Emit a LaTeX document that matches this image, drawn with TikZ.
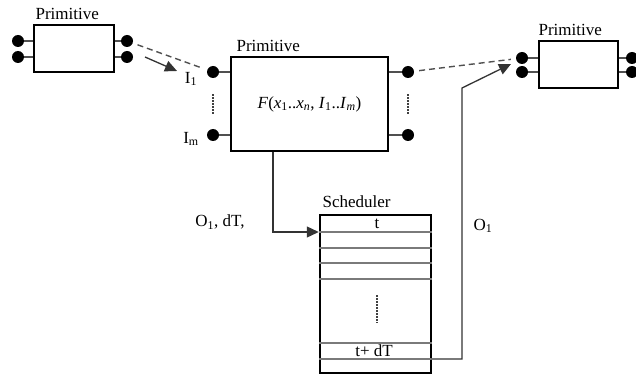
\documentclass[tikz,border=0pt]{standalone}
\usepackage{fontspec}
\setmainfont{Liberation Serif}
\usetikzlibrary{arrows.meta, positioning}
\definecolor{lineaGris}{HTML}{505050}
\definecolor{filaGris}{HTML}{7A7A7A}

\begin{document}
\begin{tikzpicture}[
        x=1pt, y=-1pt,
        font=\fontsize{17}{20}\selectfont,
        prim/.style={draw, line width=1.3pt, inner sep=0pt},
        port/.style={circle, fill=black, inner sep=0pt, minimum size=12pt},
        stub/.style={draw=lineaGris, line width=1.3pt},
        enlace/.style={lineaGris, line width=1.4pt, dash pattern=on 6pt off 4pt},
        puntos/.style={black!75, line width=2pt, dash pattern=on 1.5pt off 1.5pt},
        fila/.style={filaGris, line width=1.8pt},
        rel/.style={-{Triangle[length=12pt, width=11pt]}, line width=1.3pt, black!80},
        tag/.style={inner sep=0pt}
    ]
        \useasboundingbox (0,0) rectangle (636,374);
        % primitives
        \node[prim, minimum width=80pt, minimum height=47pt] (pa) at (74,48.5) {};
        \node[prim, minimum width=157pt, minimum height=94pt] (pm) at (309.5,104)
            {\textit{F}(\textit{x}\textsubscript{1}..\textit{x}\textsubscript{\textit{n}}, \textit{I}\textsubscript{1}..\textit{I}\textsubscript{\textit{m}})};
        \node[prim, minimum width=79pt, minimum height=47pt] (pb) at (578.5,64.5) {};
        \node[tag, above right=4pt and 2pt of pa.north west] {Primitive};
        \node[tag, above right=4pt and 6pt of pm.north west] {Primitive};
        \node[tag, above right=4pt and 0pt of pb.north west] {Primitive};
        % ports
        \node[port] (pa1) at (18,41) {};   \node[port] (pa2) at (18,57) {};
        \node[port] (pa3) at (127,41) {};  \node[port] (pa4) at (127,57) {};
        \node[port] (pm1) at (213,72) {};  \node[port] (pm2) at (213,135) {};
        \node[port] (pm3) at (408,72) {};  \node[port] (pm4) at (408,135) {};
        \node[port] (pb1) at (522,58) {};  \node[port] (pb2) at (522,72) {};
        \node[port] (pb3) at (632,58) {};  \node[port] (pb4) at (632,72) {};
        \foreach \p/\s in {pa1/pa.west, pa2/pa.west, pa3/pa.east, pa4/pa.east,
                           pm1/pm.west, pm2/pm.west, pm3/pm.east, pm4/pm.east,
                           pb1/pb.west, pb2/pb.west, pb3/pb.east, pb4/pb.east}
            \draw[stub] (\p) -- (\p -| \s);
        \draw[puntos, shorten <=16pt, shorten >=15pt] (pm1) -- (pm2);
        \draw[puntos, shorten <=16pt, shorten >=15pt] (pm3) -- (pm4);
        \draw[enlace, shorten <=5pt, shorten >=5pt] (pa3) -- (pm1);
        \draw[enlace, shorten <=5pt, shorten >=5pt] (pm3) -- (pb1);
        % scheduler
        \node[draw, line width=1.3pt, minimum width=111pt, minimum height=158pt, inner sep=0pt] (sch) at (375.5,294) {};
        \node[tag, above right=6pt and 3pt of sch.north west] {Scheduler};
        \foreach \y [count=\i] in {232, 248, 263, 279, 343, 359}
            \draw[fila] (sch.west |- 0,\y) coordinate (r\i) -- (sch.east |- 0,\y) coordinate (e\i);
        \node[tag] (t0) at (377,223.5) {t};
        \node[tag] (t1) at (374,351) {t+ dT};
        \draw[puntos] (377,295) -- (377,323);
        % flow
        \coordinate (ia) at (145,57);  \coordinate (ib) at (177,71);
        \draw[rel] (ia) -- (ib);
        \draw[rel] ([xshift=-36.5pt]pm.south) |- ([xshift=-0.6pt]r1);
        \coordinate (ra) at (462,88);  \coordinate (rb) at (511,64);
        \draw[rel] (e6) -| (ra) -- (rb);
        % labels
        \node[tag] at (191,79) {I\textsubscript{1}};
        \node[tag] at (191,139) {I\textsubscript{m}};
        \node[tag] at (220,222) {O\textsubscript{1}, dT,};
        \node[tag] at (483,226) {O\textsubscript{1}};
    \end{tikzpicture}
\end{document}
